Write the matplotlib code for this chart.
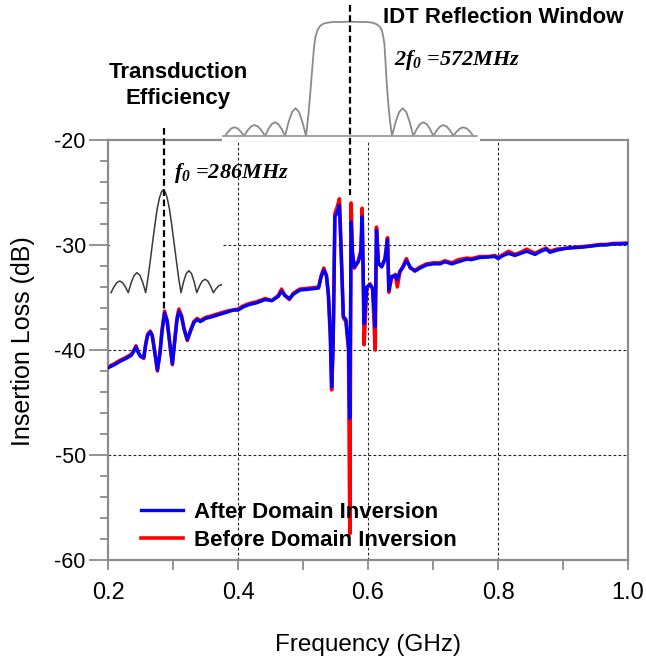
import numpy as np
import matplotlib.pyplot as plt

plt.rcParams['font.family'] = ['Liberation Sans', 'DejaVu Sans']
plt.rcParams['axes.unicode_minus'] = False
plt.rcParams['mathtext.fontset'] = 'custom'
plt.rcParams['mathtext.it'] = 'Liberation Serif:italic:bold'
plt.rcParams['mathtext.rm'] = 'Liberation Serif:italic:bold'

# measured insertion loss (GHz, dB)
freq = [0.200, 0.210, 0.218, 0.228, 0.236, 0.240, 0.243, 0.247, 0.250, 0.255,
        0.258, 0.261, 0.265, 0.268, 0.272, 0.276, 0.280, 0.283, 0.287, 0.291,
        0.295, 0.299, 0.303, 0.306, 0.309, 0.313, 0.317, 0.322, 0.327, 0.332,
        0.337, 0.342, 0.350, 0.362, 0.372, 0.383, 0.392, 0.400, 0.408, 0.416,
        0.429, 0.442, 0.452, 0.462, 0.467, 0.472, 0.479, 0.485, 0.495, 0.511,
        0.524, 0.528, 0.532, 0.536, 0.539, 0.542, 0.544, 0.546, 0.547, 0.549,
        0.552, 0.556, 0.559, 0.562, 0.566, 0.570, 0.572, 0.574, 0.576, 0.579,
        0.585, 0.589, 0.591, 0.594, 0.598, 0.603, 0.607, 0.611, 0.613, 0.616,
        0.621, 0.626, 0.630, 0.632, 0.636, 0.642, 0.645, 0.649, 0.654, 0.659,
        0.665, 0.672, 0.680, 0.690, 0.701, 0.711, 0.718, 0.729, 0.739, 0.752,
        0.759, 0.772, 0.785, 0.795, 0.800, 0.808, 0.816, 0.826, 0.835, 0.844,
        0.857, 0.866, 0.874, 0.880, 0.890, 0.906, 0.920, 0.931, 0.945, 0.957,
        0.967, 0.977, 0.988, 1.000]

after = [-41.7, -41.4, -41.1, -40.8, -40.5, -40.1, -39.7, -40.3, -40.6, -40.7,
         -39.5, -38.6, -38.3, -38.6, -40.2, -41.9, -40.3, -38.3, -36.5, -37.3,
         -39.3, -41.3, -39.0, -37.2, -36.35, -36.8, -38.0, -39.0, -38.2, -37.4,
         -37.1, -37.3, -37.0, -36.8, -36.6, -36.4, -36.2, -36.2, -35.9, -35.7,
         -35.5, -35.2, -35.3, -34.9, -34.4, -34.8, -35.1, -34.7, -34.3, -34.2,
         -34.1, -33.0, -32.4, -32.9, -34.6, -38.4, -43.5, -40.0, -36.8, -27.3,
         -27.0, -26.2, -31.4, -36.8, -37.1, -39.7, -46.5, -27.8, -30.8, -32.1,
         -31.6, -30.8, -27.3, -37.5, -34.0, -33.8, -34.1, -37.8, -28.6, -31.7,
         -32.1, -31.4, -29.5, -34.3, -33.0, -32.9, -33.3, -32.5, -32.1, -31.5,
         -32.1, -32.5, -32.2, -31.9, -31.8, -31.8, -31.6, -31.8, -31.6, -31.35,
         -31.4, -31.2, -31.15, -31.1, -31.3, -31.0, -30.8, -31.0, -30.8, -30.6,
         -30.9, -30.6, -30.4, -30.7, -30.5, -30.3, -30.25, -30.2, -30.1, -30.0,
         -30.0, -29.9, -29.9, -29.85]

before = [-41.6, -41.3, -41.0, -40.7, -40.4, -40.0, -39.6, -40.3, -40.6, -40.8,
          -39.4, -38.5, -38.2, -38.6, -40.3, -42.0, -40.2, -38.1, -36.3, -37.2,
          -39.4, -41.4, -38.8, -37.0, -36.1, -36.7, -38.0, -39.1, -38.1, -37.3,
          -37.0, -37.2, -36.9, -36.7, -36.5, -36.3, -36.2, -36.1, -35.8, -35.6,
          -35.4, -35.1, -35.3, -34.8, -34.2, -34.8, -35.2, -34.6, -34.2, -34.1,
          -34.0, -32.9, -32.2, -32.9, -34.8, -38.8, -43.8, -40.3, -36.5, -27.0,
          -26.5, -25.6, -31.0, -36.9, -37.3, -40.0, -57.5, -26.0, -30.6, -32.2,
          -31.5, -30.5, -26.5, -39.5, -34.1, -33.7, -34.2, -40.0, -28.3, -31.8,
          -32.0, -31.3, -29.3, -34.5, -33.2, -32.8, -34.0, -32.6, -32.0, -31.3,
          -32.2, -32.4, -32.1, -31.8, -31.7, -31.7, -31.5, -31.7, -31.4, -31.25,
          -31.3, -31.1, -31.1, -31.0, -31.2, -30.9, -30.6, -30.9, -30.7, -30.4,
          -30.8, -30.5, -30.3, -30.6, -30.4, -30.3, -30.2, -30.15, -30.05, -29.95,
          -29.95, -29.85, -29.85, -29.8]

# transduction efficiency sketch (GHz, normalised amplitude)
trans_f = [0.2046, 0.2091, 0.2135, 0.2180, 0.2223, 0.2268, 0.2312, 0.2357, 0.2402,
           0.2446, 0.2491, 0.2535, 0.2580, 0.2615, 0.2651, 0.2686, 0.2722, 0.2755,
           0.2791, 0.2822, 0.2851, 0.2880, 0.2911, 0.2946, 0.2980, 0.3015, 0.3051,
           0.3086, 0.3123, 0.3163, 0.3203, 0.3245, 0.3285, 0.3325, 0.3365, 0.3408,
           0.3449, 0.3492, 0.3535, 0.3577, 0.3620, 0.3663, 0.3706, 0.3749]
trans_a = [0.0, 0.056, 0.098, 0.113, 0.098, 0.056, 0.0, 0.098, 0.169,
           0.195, 0.169, 0.098, 0.0, 0.145, 0.314, 0.491, 0.662, 0.811,
           0.922, 0.980, 1.0, 0.980, 0.922, 0.811, 0.662, 0.491, 0.314,
           0.145, 0.0, 0.107, 0.185, 0.214, 0.185, 0.107, 0.0, 0.065,
           0.113, 0.130, 0.113, 0.065, 0.0, 0.040, 0.068, 0.078]

# IDT reflection window sketch (GHz, normalised amplitude)
refl_f = [0.3800, 0.3849, 0.3897, 0.3946, 0.3995, 0.4043, 0.4092, 0.4146, 0.4200,
          0.4254, 0.4308, 0.4362, 0.4415, 0.4466, 0.4518, 0.4569, 0.4620, 0.4672,
          0.4723, 0.4777, 0.4831, 0.4885, 0.4938, 0.4992, 0.5046, 0.5085, 0.5115,
          0.5146, 0.5169, 0.5192, 0.5223, 0.5262, 0.5312, 0.5385, 0.5466, 0.5595,
          0.5723, 0.5851, 0.5980, 0.6062, 0.6134, 0.6177, 0.6211, 0.6235, 0.6251,
          0.6269, 0.6288, 0.6312, 0.6338, 0.6369, 0.6423, 0.6478, 0.6532, 0.6588,
          0.6642, 0.6697, 0.6748, 0.6800, 0.6851, 0.6902, 0.6954, 0.7005, 0.7055,
          0.7108, 0.7158, 0.7209, 0.7262, 0.7312, 0.7363, 0.7415, 0.7466, 0.7517,
          0.7569, 0.7620]
refl_a = [0.0, 0.038, 0.066, 0.076, 0.066, 0.038, 0.0, 0.048, 0.083,
          0.096, 0.083, 0.048, 0.0, 0.060, 0.104, 0.120, 0.104, 0.060,
          0.0, 0.120, 0.210, 0.243, 0.210, 0.120, 0.0, 0.20, 0.40,
          0.62, 0.78, 0.87, 0.93, 0.965, 0.985, 0.995, 1.0, 1.0,
          1.003, 1.0, 1.0, 0.995, 0.98, 0.96, 0.93, 0.87, 0.81,
          0.65, 0.46, 0.28, 0.13, 0.0, 0.120, 0.210, 0.243, 0.210,
          0.120, 0.0, 0.060, 0.104, 0.120, 0.104, 0.060, 0.0, 0.048,
          0.083, 0.096, 0.083, 0.048, 0.0, 0.038, 0.066, 0.076, 0.066,
          0.038, 0.0]

f0 = 0.286
f2 = 0.572
grid_x = [0.4, 0.6, 0.8]
grid_y = [-30, -40, -50]
xticks = [0.2, 0.3, 0.4, 0.5, 0.6, 0.7, 0.8, 0.9, 1.0]
xlabels = ['0.2', '', '0.4', '', '0.6', '', '0.8', '', '1.0']

fig = plt.figure(figsize=(6.46, 6.6), dpi=100)
ax = fig.add_axes([0.1672, 0.1515, 0.8050, 0.6364])

for gx in grid_x:
    ax.axvline(gx, color='#222222', lw=0.8, ls=(0, (2.5, 2)), zorder=1)
for gy in grid_y:
    ax.axhline(gy, color='#222222', lw=0.8, ls=(0, (2.5, 2)), zorder=1)

ln_red, = ax.plot(freq, before, color='#ff0000', lw=2.6, label='Before Domain Inversion', zorder=2)
ln_blue, = ax.plot(freq, after, color='#0000ff', lw=2.4, label='After Domain Inversion', zorder=3)

ax.set_xlim(0.2, 1.0)
ax.set_ylim(-60, -20)
ax.set_xticks(xticks)
ax.set_xticklabels(xlabels)
ax.set_yticks([-60, -50, -40, -30, -20])
ax.set_yticks(np.arange(-60, -19, 2), minor=True)
ax.tick_params(axis='x', direction='out', length=7, width=1.2, color='#808080',
               labelsize=17, pad=9)
ax.tick_params(axis='y', which='major', direction='out', length=14, width=1.2,
               color='#808080', labelsize=15.5, pad=2)
ax.tick_params(axis='y', which='minor', direction='out', length=5.5, width=1.2,
               color='#808080')
for sp in ax.spines.values():
    sp.set_color('#8c8c8c')
    sp.set_linewidth(1.6)

ax.set_xlabel('Frequency (GHz)', fontsize=17.5)
ax.set_ylabel('Insertion Loss (dB)', fontsize=18)
ax.xaxis.label.set_va('center')
ax.yaxis.label.set_va('center')
ax.xaxis.set_label_coords(0.5, -0.2024)
ax.yaxis.set_label_coords(-0.1644, 0.5214)

ax.legend(handles=[ln_blue, ln_red], loc='upper left',
          bbox_to_anchor=(141 / 646, 1 - 502 / 660), bbox_transform=fig.transFigure,
          frameon=False, borderpad=0, borderaxespad=0, handlelength=1.9,
          handletextpad=0.5, labelspacing=0.3,
          prop={'weight': 'bold', 'size': 16})

# transduction efficiency inset
ax_t = fig.add_axes([0.1703, 0.5455, 0.1734, 0.1818])
ax_t.plot(trans_f, trans_a, color='#3a3a3a', lw=1.1)
ax_t.set_xlim(0.2031, 0.3754)
ax_t.set_ylim(-0.071, 1.097)
ax_t.set_facecolor('white')
ax_t.set_xticks([])
ax_t.set_yticks([])
for sp in ax_t.spines.values():
    sp.set_visible(False)

# IDT reflection window inset
ax_r = fig.add_axes([0.3437, 0.7864, 0.3994, 0.2136])
ax_r.plot(refl_f, refl_a, color='#8a8a8a', lw=1.3)
ax_r.axhline(0, xmin=0.004, xmax=0.99, color='#9a9a9a', lw=1.3)
ax_r.set_xlim(0.3754, 0.7723)
ax_r.set_ylim(-0.044, 1.193)
ax_r.set_facecolor('white')
ax_r.set_xticks([])
ax_r.set_yticks([])
for sp in ax_r.spines.values():
    sp.set_visible(False)

# overlay for marker lines and annotations
ov = fig.add_axes([0, 0, 1, 1])
ov.axis('off')
ov.patch.set_alpha(0)
ov.plot([f0, f0], [-18.9, -36.3], transform=ax.transData, color='black', lw=1.6,
        ls=(0, (3, 1.6)), clip_on=False)
ov.plot([f2, f2], [-7.1, -25.2], transform=ax.transData, color='black', lw=1.6,
        ls=(0, (3, 1.6)), clip_on=False)

fig.text(0.593, 0.974, 'IDT Reflection Window', fontsize=16, fontweight='bold',
         ha='left', va='center')
fig.text(0.2755, 0.871, 'Transduction\nEfficiency', fontsize=16, fontweight='bold',
         ha='center', va='center', linespacing=1.3)
fig.text(0.2693, 0.738, r'$f_0$ =286MHz', fontsize=16, family='Liberation Serif',
         style='italic', weight='bold', ha='left', va='center')
fig.text(0.610, 0.909, r'2$f_0$ =572MHz', fontsize=16, family='Liberation Serif',
         style='italic', weight='bold', ha='left', va='center')

fig.savefig('out.png', dpi=100)
